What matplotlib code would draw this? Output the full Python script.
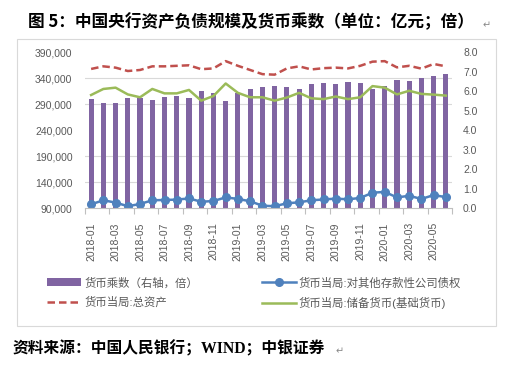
import matplotlib
matplotlib.use("Agg")
import matplotlib.pyplot as plt
from matplotlib.patches import Rectangle
from matplotlib.ticker import FixedLocator, FuncFormatter

plt.rcParams["font.family"] = ["Liberation Sans", "Noto Sans CJK SC", "DejaVu Sans"]

# ── データ ──────────────────────────────────────
months = ["2018-01", "2018-02", "2018-03", "2018-04", "2018-05", "2018-06",
          "2018-07", "2018-08", "2018-09", "2018-10", "2018-11", "2018-12",
          "2019-01", "2019-02", "2019-03", "2019-04", "2019-05", "2019-06",
          "2019-07", "2019-08", "2019-09", "2019-10", "2019-11", "2019-12",
          "2020-01", "2020-02", "2020-03", "2020-04", "2020-05", "2020-06"]

multiplier = [5.61, 5.40, 5.40, 5.66, 5.66, 5.56, 5.71, 5.76, 5.66, 6.02,
              5.90, 5.50, 5.90, 6.12, 6.22, 6.27, 6.22, 6.12, 6.38, 6.43,
              6.38, 6.48, 6.43, 6.14, 6.27, 6.58, 6.53, 6.68, 6.79, 6.89]

total_assets = [358000, 363000, 360500, 354000, 356000, 363000, 363000, 364000, 365000, 357500,
                359000, 373000, 364000, 356000, 348000, 347000, 359000, 363000, 357000, 359500,
                360500, 359000, 364000, 372000, 373000, 361000, 364000, 358600, 367600, 363000]

claims_odc = [97700, 105400, 101000, 94000, 98300, 105400, 106000, 106700, 109000, 102600,
              104000, 111000, 108000, 103500, 95000, 94000, 99600, 101500, 105400, 107000,
              108600, 107300, 109900, 120000, 121500, 111000, 114000, 108000, 115400, 111500]

base_money = [307900, 319500, 322000, 309000, 303500, 319500, 311000, 311000, 317600, 297000,
              306000, 330000, 312000, 303500, 303500, 297000, 303000, 312000, 301500, 300000,
              305000, 300000, 303500, 325000, 322000, 309000, 316000, 310000, 308600, 306700]

left_ticks = [90000, 140000, 190000, 240000, 290000, 340000, 390000]
right_ticks = [0, 1, 2, 3, 4, 5, 6, 7, 8]

label_color = "#595959"
x = list(range(len(months)))

fig = plt.figure(figsize=(5.24, 3.72), dpi=100)
ax = fig.add_axes([85 / 524, 1 - 208.3 / 372, 367 / 524, 156 / 372])
ax2 = ax.twinx()

# 棒（右軸）
b = ax2.bar(x, multiplier, width=0.42, color="#8064A2", label="货币乘数（右轴，倍）")
ax2.set_ylim(0, 8)
ax2.yaxis.set_major_locator(FixedLocator(right_ticks))
ax2.yaxis.set_major_formatter(FuncFormatter(lambda v, p: f"{v:.1f}"))
# 左軸の目盛り位置に合わせたグリッド（棒の背面）
ax2.yaxis.set_minor_locator(FixedLocator([(v - 90000) / 300000 * 8 for v in left_ticks]))
ax2.grid(which="minor", axis="y", color="#D9D9D9", lw=0.8)
ax2.set_axisbelow(True)
ax2.tick_params(axis="y", which="both", length=0, labelsize=7.5, labelcolor=label_color, pad=8)
for s in ax2.spines.values():
    s.set_visible(False)

# 折れ線（左軸）
l_red, = ax.plot(x, total_assets, color="#C0504D", lw=1.8, ls=(0, (3, 1.6)), label="货币当局:总资产")
l_blue, = ax.plot(x, claims_odc, color="#4F81BD", lw=1.8, marker="o", ms=5.5,
                  label="货币当局:对其他存款性公司债权")
l_green, = ax.plot(x, base_money, color="#9BBB59", lw=1.8, label="货币当局:储备货币(基础货币)")
ax.set_zorder(ax2.get_zorder() + 1)
ax.patch.set_visible(False)
ax.set_ylim(90000, 390000)
ax.yaxis.set_major_locator(FixedLocator(left_ticks))
ax.yaxis.set_major_formatter(FuncFormatter(lambda v, p: f"{int(v):,}"))
ax.tick_params(axis="y", length=0, labelsize=7.5, labelcolor=label_color, pad=9)

ax.set_xlim(-0.5, len(months) - 0.5)
ax.xaxis.set_major_locator(FixedLocator([i - 0.5 for i in range(0, len(months) + 1, 2)]))
ax.xaxis.set_major_formatter(FuncFormatter(lambda v, p: ""))
ax.xaxis.set_minor_locator(FixedLocator(x[::2]))
ax.set_xticklabels(months[::2], minor=True, rotation=90)
ax.tick_params(axis="x", which="major", length=4, color="#BFBFBF", width=0.8)
ax.tick_params(axis="x", which="minor", length=0, labelsize=7.5, labelcolor=label_color, pad=10)
for k in ["left", "right", "top"]:
    ax.spines[k].set_visible(False)
ax.spines["bottom"].set_color("#BFBFBF")
ax.spines["bottom"].set_linewidth(0.8)

# 凡例
leg = fig.legend([b, l_red, l_blue, l_green],
                 ["货币乘数（右轴，倍）", "货币当局:总资产",
                  "货币当局:对其他存款性公司债权", "货币当局:储备货币(基础货币)"],
                 loc="upper left", bbox_to_anchor=(47 / 524, 1 - 277 / 372), ncol=2,
                 frameon=False, fontsize=8.2, handlelength=3.0, handletextpad=0.25,
                 columnspacing=5.6, labelspacing=0.75, borderpad=0, borderaxespad=0)
for t in leg.get_texts():
    t.set_color(label_color)

# 枠線
fig.add_artist(Rectangle((16.5 / 524, 1 - 325.7 / 372), 479.5 / 524, 287 / 372,
                         transform=fig.transFigure, fill=False, ec="#D9D9D9", lw=0.8))

# タイトルと出典
fig.text(251 / 524, 1 - 22 / 372, "图 5：中国央行资产负债规模及货币乘数（单位：亿元；倍）",
         ha="center", va="center", fontsize=12, fontweight="bold",
         family=["Noto Sans CJK SC", "DejaVu Sans"])
fig.text(483 / 524, 1 - 25 / 372, "↵", ha="left", va="center", fontsize=7, color="#888888",
         family=["DejaVu Sans"])
src = fig.text(13 / 524, 1 - 349 / 372, "资料来源：中国人民银行；WIND；中银证券",
               ha="left", va="center", fontsize=11.3, fontweight="bold",
               family=["Liberation Serif", "Noto Sans CJK SC", "DejaVu Sans"])
fig.text(336 / 524, 1 - 351 / 372, "↵", ha="left", va="center", fontsize=7, color="#888888",
         family=["DejaVu Sans"])

fig.savefig("out.png", dpi=100)
print("saved: out.png")
